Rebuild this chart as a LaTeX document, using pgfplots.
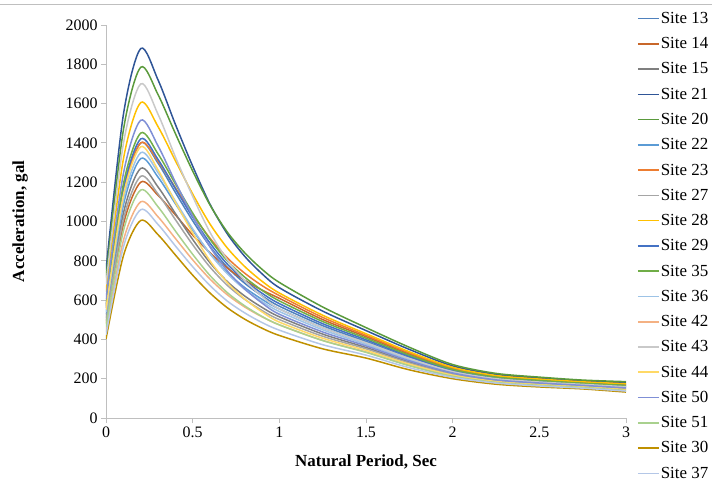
\documentclass[border=0pt]{standalone}
\usepackage{fontspec}
\setmainfont{Liberation Serif}
\usepackage{pgfplots}
\pgfplotsset{compat=1.18}
\usepackage{pgfplotstable}

\definecolor{c13}{HTML}{4F81BD}
\definecolor{c14}{HTML}{C8672A}
\definecolor{c15}{HTML}{7F7F7F}
\definecolor{c21}{HTML}{2F5597}
\definecolor{c20}{HTML}{5A9A3C}
\definecolor{c22}{HTML}{5B9BD5}
\definecolor{c23}{HTML}{ED7D31}
\definecolor{c27}{HTML}{A5A5A5}
\definecolor{c28}{HTML}{FFC000}
\definecolor{c29}{HTML}{4472C4}
\definecolor{c35}{HTML}{70AD47}
\definecolor{c36}{HTML}{9DC3E6}
\definecolor{c42}{HTML}{F4B183}
\definecolor{c43}{HTML}{C9C9C9}
\definecolor{c44}{HTML}{FFD966}
\definecolor{c50}{HTML}{7F8FD6}
\definecolor{c51}{HTML}{A9D18E}
\definecolor{c30}{HTML}{BF9000}
\definecolor{c37}{HTML}{B4C7E7}
\definecolor{axgray}{HTML}{BFBFBF}

% spectral acceleration (gal) vs natural period (s), one column per site
\pgfplotstableread{
T    S13  S14  S15  S21  S20  S22  S23  S27  S28  S29  S35  S36  S42  S43  S44  S50  S51  S30  S37
0    560  480  508  752  714  528  560  492  642  568  580  540  440  680  552  606  464  402  424
0.1  1148 984  1041 1542 1464 1082 1148 1009 1316 1164 1189 1107 902  1394 1132 1242 951  824  869
0.2  1400 1200 1270 1880 1785 1320 1400 1230 1605 1420 1450 1350 1100 1700 1380 1515 1160 1005 1060
0.3  1297 1133 1176 1721 1646 1226 1307 1140 1483 1316 1344 1249 1024 1546 1263 1385 1075 933  985
0.4  1148 1034 1041 1495 1448 1091 1172 1010 1310 1167 1192 1104 914  1329 1098 1201 952  830  876
0.5  1004 931  909  1282 1257 957  1036 882  1140 1022 1043 963  805  1128 942  1028 833  727  770
0.6  873  841  790  1088 1084 837  915  768  987  890  909  836  707  945  800  871  725  636  674
0.7  767  763  694  937  946  740  815  675  865  783  800  734  627  805  689  749  638  561  595
0.8  686  701  621  823  841  664  737  604  771  700  717  655  565  700  606  657  571  503  535
0.9  622  651  563  734  757  604  674  547  696  635  650  593  515  619  540  585  517  457  486
1    569  609  515  663  690  555  623  501  636  582  596  542  474  555  488  528  474  420  447
1.25 470  501  427  544  565  459  512  416  523  480  491  449  395  459  406  438  394  352  373
1.5  390  414  359  445  460  383  421  352  429  398  406  375  336  383  344  367  334  305  320
1.75 308  326  285  349  360  303  331  280  337  314  320  297  268  303  274  291  266  245  256
2    240  250  225  265  272  236  254  222  258  243  247  232  214  236  218  229  212  200  207
2.25 202  211  191  222  227  200  213  189  216  205  208  197  183  200  186  194  181  172  178
2.5  186  193  176  203  208  183  196  173  198  188  191  181  168  183  171  178  166  158  163
2.75 173  180  164  189  193  171  182  162  184  175  177  168  157  171  159  166  155  148  152
3    161  169  151  180  185  159  172  148  174  164  166  156  143  159  145  153  140  132  137
}\spectra

\begin{document}
\begin{tikzpicture}
\begin{axis}[
    scale only axis,
    width=520bp, height=393bp,
    xmin=0, xmax=3, ymin=0, ymax=2000,
    xtick={0,0.5,...,3}, ytick={0,200,...,2000},
    axis x line=bottom, axis y line=left,
    axis line style={-, draw=axgray, line width=0.8bp},
    tick style={draw=axgray, line width=0.8bp},
    tick align=outside, major tick length=5bp,
    /pgf/number format/assume math mode=true,
    /pgf/number format/1000 sep={},
    tick label style={font=\fontsize{16}{18}\selectfont},
    xlabel={\textbf{Natural Period, Sec}},
    ylabel={\textbf{Acceleration, gal}},
    label style={font=\fontsize{17}{19}\selectfont},
    xlabel style={at={(axis description cs:0.5,-0.112)}, anchor=center},
    ylabel style={at={(axis description cs:-0.165,0.5)}, anchor=center},
    legend style={draw=none, fill=none, at={(1,1)}, anchor=north west,
        xshift=8bp, yshift=16bp, row sep=10.55bp,
        font=\fontsize{17}{19}\selectfont,
        nodes={inner sep=1bp}},
    legend cell align=left,
    legend image code/.code={\draw[#1, line width=1.6bp] (0bp,0bp) -- (21bp,0bp);},
    every axis plot/.append style={smooth, tension=0.5, line width=1.5bp, mark=none},
]
\addplot[c13] table[x=T, y=S13] {\spectra}; \addlegendentry{Site 13}
\addplot[c14] table[x=T, y=S14] {\spectra}; \addlegendentry{Site 14}
\addplot[c15] table[x=T, y=S15] {\spectra}; \addlegendentry{Site 15}
\addplot[c21] table[x=T, y=S21] {\spectra}; \addlegendentry{Site 21}
\addplot[c20] table[x=T, y=S20] {\spectra}; \addlegendentry{Site 20}
\addplot[c22] table[x=T, y=S22] {\spectra}; \addlegendentry{Site 22}
\addplot[c23] table[x=T, y=S23] {\spectra}; \addlegendentry{Site 23}
\addplot[c27] table[x=T, y=S27] {\spectra}; \addlegendentry{Site 27}
\addplot[c28] table[x=T, y=S28] {\spectra}; \addlegendentry{Site 28}
\addplot[c29] table[x=T, y=S29] {\spectra}; \addlegendentry{Site 29}
\addplot[c35] table[x=T, y=S35] {\spectra}; \addlegendentry{Site 35}
\addplot[c36] table[x=T, y=S36] {\spectra}; \addlegendentry{Site 36}
\addplot[c42] table[x=T, y=S42] {\spectra}; \addlegendentry{Site 42}
\addplot[c43] table[x=T, y=S43] {\spectra}; \addlegendentry{Site 43}
\addplot[c44] table[x=T, y=S44] {\spectra}; \addlegendentry{Site 44}
\addplot[c50] table[x=T, y=S50] {\spectra}; \addlegendentry{Site 50}
\addplot[c51] table[x=T, y=S51] {\spectra}; \addlegendentry{Site 51}
\addplot[c30] table[x=T, y=S30] {\spectra}; \addlegendentry{Site 30}
\addplot[c37] table[x=T, y=S37] {\spectra}; \addlegendentry{Site 37}
\end{axis}
% chart frame line at the top edge
\draw[axgray, line width=0.8bp] ([xshift=-106bp,yshift=21bp]current axis.north west) -- ([xshift=86bp,yshift=21bp]current axis.north east);
\pgfresetboundingbox
\path ([xshift=-106bp,yshift=-69bp]current axis.south west) rectangle ([xshift=86bp,yshift=25bp]current axis.north east);
\end{tikzpicture}
\end{document}
